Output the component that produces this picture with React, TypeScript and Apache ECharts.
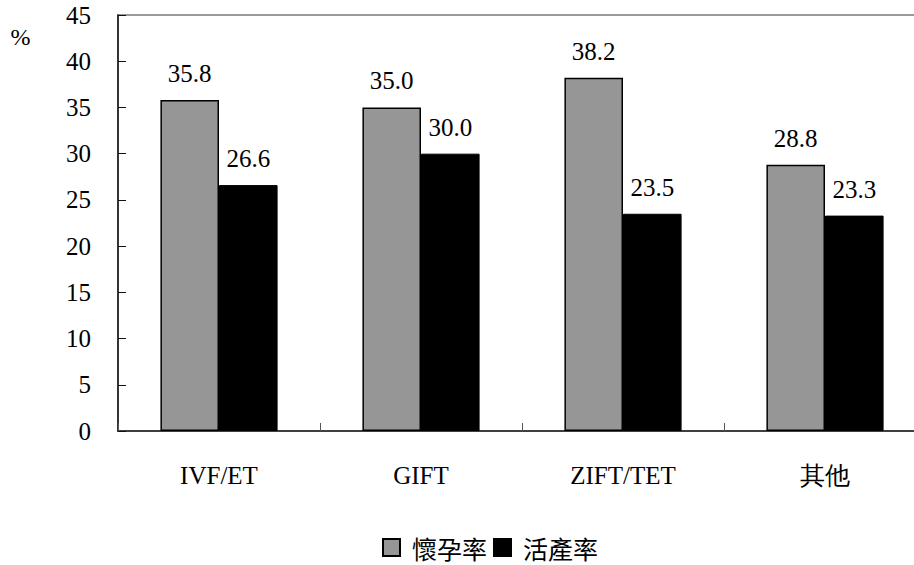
import React, { useEffect, useRef } from "react";
import * as echarts from "echarts";

const categories = ["IVF/ET", "GIFT", "ZIFT/TET", "其他"];
const pregnancyRate = [35.8, 35.0, 38.2, 28.8];
const liveBirthRate = [26.6, 30.0, 23.5, 23.3];
const seriesNames = ["懷孕率", "活產率"];
const yTicks = { min: 0, max: 45, interval: 5 };

const FONT = "Liberation Serif";

export default function App() {
  const ref = useRef<HTMLDivElement>(null);
  useEffect(() => {
    if (!ref.current) return;
    const chart = echarts.init(ref.current, null, { renderer: "svg" });
    const makeLabel = () => ({
      show: true,
      position: "top",
      distance: 14,
      color: "#000",
      fontFamily: FONT,
      fontSize: 25,
      formatter: (p: any) => Number(p.value).toFixed(1),
    });
    chart.setOption({
      animation: false,
      backgroundColor: "#fff",
      textStyle: { fontFamily: FONT },
      grid: {
        left: 118,
        right: -12,
        top: 15,
        bottom: 134,
        show: true,
        borderColor: "#9a9a9a",
        borderWidth: 2,
        containLabel: false,
        outerBoundsMode: "none",
      },
      legend: {
        data: seriesNames.map((n) => ({ name: n, icon: "rect" })),
        left: 382,
        top: 535,
        padding: 0,
        itemWidth: 17,
        itemHeight: 17,
        itemGap: 6,
        textStyle: {
          fontFamily: "Noto Sans CJK TC",
          fontSize: 25,
          color: "#000",
          padding: [0, 0, 0, 7],
        },
      },
      xAxis: {
        type: "category",
        data: categories,
        axisLine: { show: true, lineStyle: { color: "#222", width: 1.5 } },
        axisTick: { show: true, inside: true, length: 8, lineStyle: { color: "#555", width: 1 } },
        axisLabel: { margin: 32, color: "#000", fontFamily: FONT, fontSize: 25 },
        splitLine: { show: false },
      },
      yAxis: {
        type: "value",
        min: yTicks.min,
        max: yTicks.max,
        interval: yTicks.interval,
        axisLine: { show: true, lineStyle: { color: "#111", width: 1.5 } },
        axisTick: { show: true, inside: true, length: 8, lineStyle: { color: "#111", width: 1 } },
        axisLabel: { margin: 27, color: "#000", fontFamily: FONT, fontSize: 25, padding: [17, 0, 0, 0] },
        splitLine: { show: false },
      },
      graphic: [
        {
          type: "text",
          x: 20.5,
          y: 37,
          style: {
            text: "%",
            fontFamily: FONT,
            fontSize: 24,
            fill: "#000",
            align: "center",
            verticalAlign: "middle",
          },
        },
      ],
      series: [
        {
          name: seriesNames[0],
          type: "bar",
          data: pregnancyRate,
          barGap: "0%",
          barCategoryGap: "42%",
          itemStyle: { color: "#969696", borderColor: "#000", borderWidth: 1.5 },
          label: makeLabel(),
        },
        {
          name: seriesNames[1],
          type: "bar",
          data: liveBirthRate,
          barGap: "0%",
          barCategoryGap: "42%",
          itemStyle: { color: "#000", borderColor: "#000", borderWidth: 1 },
          label: makeLabel(),
        },
      ],
    });
    return () => chart.dispose();
  }, []);
  return (
    <div
      ref={ref}
      style={{ position: "absolute", left: 0, top: 0, width: 914, height: 565 }}
    />
  );
}
